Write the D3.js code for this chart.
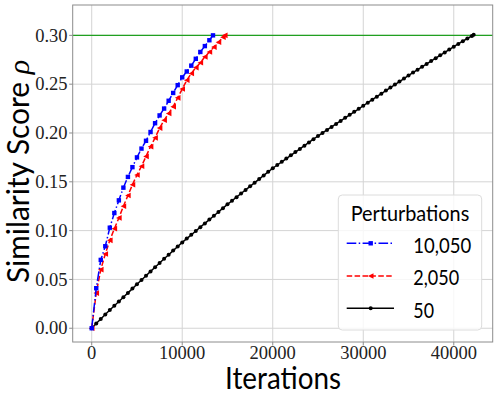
<!DOCTYPE html>
<html><head><meta charset="utf-8">
<script src="https://cdn.jsdelivr.net/npm/d3@7"></script>
<style>body{margin:0;background:#fff}svg{display:block}
.serif{font-family:"Liberation Serif","DejaVu Serif",serif}
.sans{font-family:Lato,"Open Sans",sans-serif}
</style>
</head><body>
<svg id="chart" width="498" height="399"></svg>
<script>
// ---------------- data ----------------
const checkpoints = [0,500,1000,1500,2000,2500,3000,3500,4000,4500,5000,5500,6000,6500,7000,7500,8000,8500,9000,9500,
  10000,10500,11000,11500,12000,12500,13000,13500,14000,14500,15000,15500,16000,16500,17000,17500,18000,18500,19000,19500,
  20000,20500,21000,21500,22000,22500,23000,23500,24000,24500,25000,25500,26000,26500,27000,27500,28000,28500,29000,29500,
  30000,30500,31000,31500,32000,32500,33000,33500,34000,34500,35000,35500,36000,36500,37000,37500,38000,38500,39000,39500,
  40000,40500,41000,41500,42000];
const finalIterBlue = 13400, finalIterRed = 14700, finalIterBlack = 42200;
const scoreBlue = [0,0.041,0.070,0.084,0.103,0.118,0.131,0.144,0.155,0.165,0.175,0.184,0.192,0.201,0.210,0.218,0.225,0.233,0.241,0.249,0.257,0.263,0.269,0.276,0.283,0.289,0.295,0.300];
const scoreRed = [0,0.036,0.060,0.076,0.090,0.102,0.113,0.125,0.136,0.147,0.157,0.166,0.176,0.186,0.195,0.205,0.213,0.220,0.227,0.236,0.245,0.254,0.261,0.267,0.272,0.278,0.283,0.288,0.293,0.298,0.300];
const scoreBlack = [0,0.0048,0.0095,0.0141,0.0186,0.0230,0.0274,0.0318,0.0362,0.0406,0.0450,0.0494,0.0538,0.0582,0.0625,0.0668,0.0711,0.0753,0.0795,0.0837,
  0.0879,0.0918,0.0957,0.0996,0.1035,0.1074,0.1113,0.1152,0.1191,0.1230,0.1269,0.1306,0.1343,0.1380,0.1417,0.1454,0.1491,0.1528,0.1565,0.1602,
  0.1639,0.1672,0.1705,0.1738,0.1771,0.1804,0.1837,0.1870,0.1903,0.1936,0.1969,0.2000,0.2031,0.2062,0.2093,0.2124,0.2155,0.2186,0.2217,0.2248,
  0.2279,0.2310,0.2341,0.2372,0.2403,0.2434,0.2465,0.2496,0.2527,0.2558,0.2589,0.2619,0.2648,0.2678,0.2707,0.2737,0.2766,0.2796,0.2825,0.2855,
  0.2884,0.2912,0.2940,0.2968,0.2994,0.3005];
const seriesLabels = ["10,050", "2,050", "50"];
const threshold = 0.30;
const xTicks = [0,10000,20000,30000,40000];
const yTicks = [0,0.05,0.10,0.15,0.20,0.25,0.30];
const xTitle = "Iterations", yTitle = "Similarity Score ", yTitleSym = "ρ", legendTitle = "Perturbations";

// ---------------- layout ----------------
const L = 72.7, R = 492.7, T = 5, B = 342;
const x = d3.scaleLinear().domain([-2100, 44300]).range([L, R]);
const y = d3.scaleLinear().domain([-0.0141, 0.3311]).range([B, T]);
const svg = d3.select("#chart");

function pts(scores, finalIter) {
  const it = checkpoints.slice(0, scores.length - 1).concat([finalIter]);
  return scores.map((s, i) => [it[i], s]);
}
const series = [
  {label: seriesLabels[0], data: pts(scoreBlue, finalIterBlue), color: "#0000ff", dash: "9.6,2.4,1.5,2.4", marker: "square"},
  {label: seriesLabels[1], data: pts(scoreRed, finalIterRed), color: "#ff0000", dash: "5.5,2.4", marker: "tri"},
  {label: seriesLabels[2], data: pts(scoreBlack, finalIterBlack), color: "#000000", dash: null, marker: "circle"}
];

// grid
const g = svg.append("g");
g.selectAll(".gx").data(xTicks).enter().append("line")
  .attr("x1", d => x(d)).attr("x2", d => x(d)).attr("y1", T).attr("y2", B)
  .attr("stroke", "#d4d4d4").attr("stroke-width", 1);
g.selectAll(".gy").data(yTicks).enter().append("line")
  .attr("x1", L).attr("x2", R).attr("y1", d => y(d)).attr("y2", d => y(d))
  .attr("stroke", "#d4d4d4").attr("stroke-width", 1);

// threshold line
svg.append("line").attr("x1", L).attr("x2", R).attr("y1", y(threshold)).attr("y2", y(threshold))
  .attr("stroke", "#20a020").attr("stroke-width", 1.2);

function drawMarker(sel, type, color, cx, cy) {
  if (type === "square") {
    sel.append("rect").attr("x", cx - 2.2).attr("y", cy - 2.2).attr("width", 4.4).attr("height", 4.4).attr("fill", color);
  } else if (type === "tri") {
    const s = 2.8;
    sel.append("path").attr("d", `M${cx - s},${cy} L${cx + s},${cy - s} L${cx + s},${cy + s} Z`).attr("fill", color);
  } else {
    sel.append("circle").attr("cx", cx).attr("cy", cy).attr("r", 2).attr("fill", color);
  }
}

const line = d3.line().x(d => x(d[0])).y(d => y(d[1]));
series.slice().reverse().forEach(s => {
  const gs = svg.append("g");
  gs.append("path").attr("d", line(s.data)).attr("fill", "none").attr("stroke", s.color)
    .attr("stroke-width", 1.5).attr("stroke-dasharray", s.dash);
  s.data.forEach(d => drawMarker(gs, s.marker, s.color, x(d[0]), y(d[1])));
});

// spines
svg.append("rect").attr("x", L).attr("y", T).attr("width", R - L).attr("height", B - T)
  .attr("fill", "none").attr("stroke", "#8c8c8c").attr("stroke-width", 1);

// ticks
svg.selectAll(".tx").data(xTicks).enter().append("line")
  .attr("x1", d => x(d)).attr("x2", d => x(d)).attr("y1", B).attr("y2", B + 3.5)
  .attr("stroke", "#8c8c8c");
svg.selectAll(".ty").data(yTicks).enter().append("line")
  .attr("x1", L - 3.5).attr("x2", L).attr("y1", d => y(d)).attr("y2", d => y(d))
  .attr("stroke", "#8c8c8c");

svg.selectAll(".lx").data(xTicks).enter().append("text").attr("class", "serif")
  .attr("x", d => x(d)).attr("y", 358.5).attr("text-anchor", "middle")
  .attr("font-size", 18.5).attr("fill", "#222")
  .text(d => d3.format("d")(d));
svg.selectAll(".ly").data(yTicks).enter().append("text").attr("class", "serif")
  .attr("x", 67.5).attr("y", d => y(d) + 6.2).attr("text-anchor", "end")
  .attr("font-size", 18.5).attr("fill", "#222")
  .text(d => d3.format(".2f")(d));

// axis titles
svg.append("text").attr("class", "sans").attr("x", 283).attr("y", 388.5).attr("text-anchor", "middle")
  .attr("font-size", 30).attr("fill", "#000")
  .attr("textLength", 116).attr("lengthAdjust", "spacingAndGlyphs").text(xTitle);
const yt = svg.append("text").attr("class", "sans").attr("transform", "translate(28.5,171.5) rotate(-90)")
  .attr("text-anchor", "middle").attr("font-size", 30).attr("fill", "#000")
  .attr("textLength", 223).attr("lengthAdjust", "spacingAndGlyphs");
yt.append("tspan").text(yTitle);
yt.append("tspan").attr("class", "serif").attr("font-style", "italic").text(yTitleSym);

// legend
const lg = svg.append("g");
lg.append("rect").attr("x", 338.3).attr("y", 195).attr("width", 143.4).attr("height", 135).attr("rx", 4)
  .attr("fill", "#fff").attr("fill-opacity", 0.8).attr("stroke", "#dcdcdc").attr("stroke-width", 1);
lg.append("text").attr("class", "sans").attr("x", 410).attr("y", 220.7).attr("text-anchor", "middle")
  .attr("font-size", 22).attr("fill", "#000")
  .attr("textLength", 118.6).attr("lengthAdjust", "spacingAndGlyphs").text(legendTitle);
const rowY = [243.3, 276, 308.3];
const labW = [58, 46, 20.7];
series.forEach((s, i) => {
  lg.append("line").attr("x1", 346.7).attr("x2", 394).attr("y1", rowY[i]).attr("y2", rowY[i])
    .attr("stroke", s.color).attr("stroke-width", 1.5).attr("stroke-dasharray", s.dash);
  drawMarker(lg, s.marker, s.color, 370.7, rowY[i]);
  lg.append("text").attr("class", "sans").attr("x", 413.3).attr("y", rowY[i] + 9.2)
    .attr("font-size", 22).attr("fill", "#000")
    .attr("textLength", labW[i]).attr("lengthAdjust", "spacingAndGlyphs").text(s.label);
});
</script>
</body></html>
